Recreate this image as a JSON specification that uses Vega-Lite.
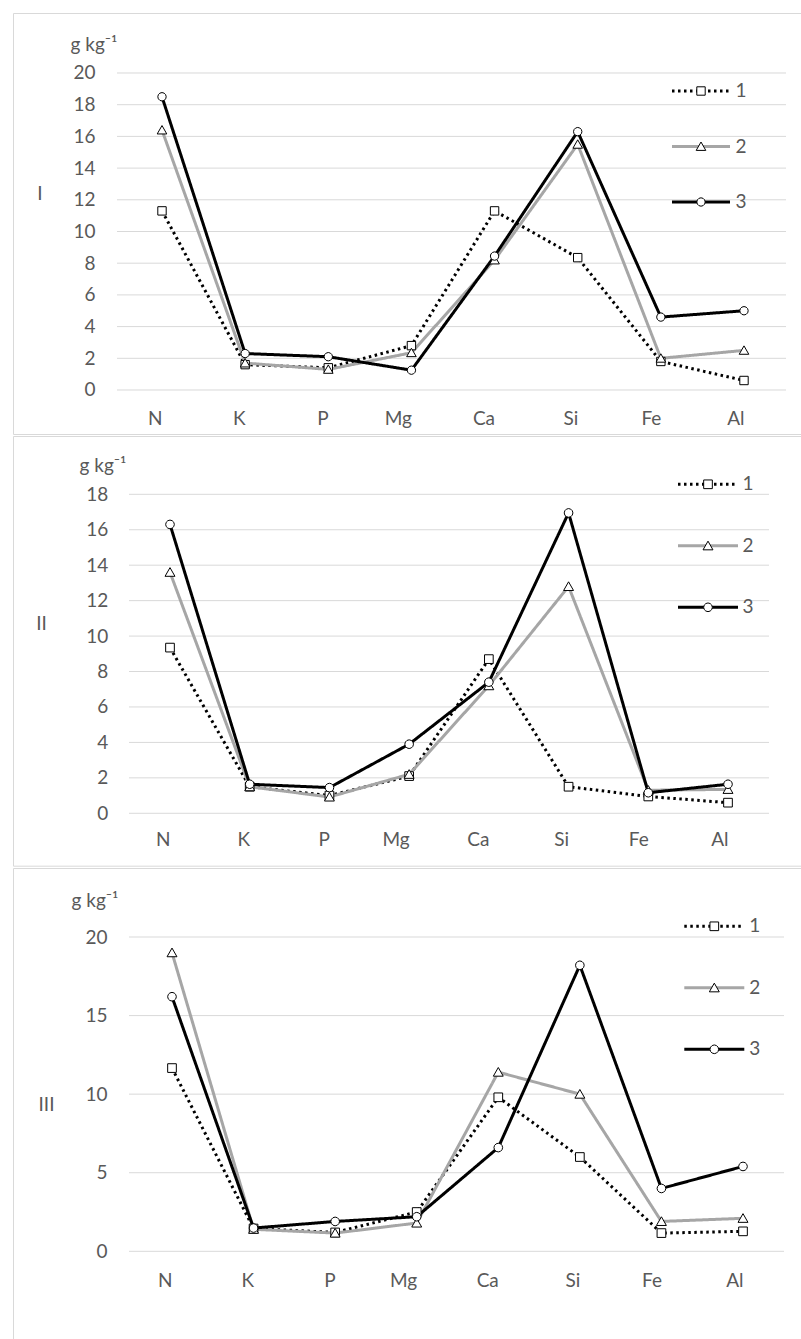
{
"$schema": "https://vega.github.io/schema/vega-lite/v6.json",
"padding": {"left": 12, "top": 12, "right": 0, "bottom": 0},
"spacing": 0,
"resolve": {
 "scale": {"x": "independent", "y": "independent", "color": "independent", "strokeDash": "independent", "shape": "independent"},
 "legend": {"color": "independent", "strokeDash": "independent", "shape": "independent"}
},
"datasets": {
"g1": [{"t":0},{"t":2},{"t":4},{"t":6},{"t":8},{"t":10},{"t":12},{"t":14},{"t":16},{"t":18},{"t":20}],
"g2": [{"t":0},{"t":2},{"t":4},{"t":6},{"t":8},{"t":10},{"t":12},{"t":14},{"t":16},{"t":18}],
"g3": [{"t":0},{"t":5},{"t":10},{"t":15},{"t":20}],
"d": [
{"p":"I","s":"1","e":"N","v":11.3},{"p":"I","s":"1","e":"K","v":1.6},{"p":"I","s":"1","e":"P","v":1.4},{"p":"I","s":"1","e":"Mg","v":2.8},{"p":"I","s":"1","e":"Ca","v":11.3},{"p":"I","s":"1","e":"Si","v":8.35},{"p":"I","s":"1","e":"Fe","v":1.8},{"p":"I","s":"1","e":"Al","v":0.6},
{"p":"I","s":"2","e":"N","v":16.4},{"p":"I","s":"2","e":"K","v":1.7},{"p":"I","s":"2","e":"P","v":1.3},{"p":"I","s":"2","e":"Mg","v":2.35},{"p":"I","s":"2","e":"Ca","v":8.2},{"p":"I","s":"2","e":"Si","v":15.5},{"p":"I","s":"2","e":"Fe","v":2.0},{"p":"I","s":"2","e":"Al","v":2.5},
{"p":"I","s":"3","e":"N","v":18.5},{"p":"I","s":"3","e":"K","v":2.3},{"p":"I","s":"3","e":"P","v":2.1},{"p":"I","s":"3","e":"Mg","v":1.25},{"p":"I","s":"3","e":"Ca","v":8.45},{"p":"I","s":"3","e":"Si","v":16.3},{"p":"I","s":"3","e":"Fe","v":4.6},{"p":"I","s":"3","e":"Al","v":5.0},
{"p":"II","s":"1","e":"N","v":9.35},{"p":"II","s":"1","e":"K","v":1.5},{"p":"II","s":"1","e":"P","v":1.0},{"p":"II","s":"1","e":"Mg","v":2.1},{"p":"II","s":"1","e":"Ca","v":8.7},{"p":"II","s":"1","e":"Si","v":1.5},{"p":"II","s":"1","e":"Fe","v":0.95},{"p":"II","s":"1","e":"Al","v":0.6},
{"p":"II","s":"2","e":"N","v":13.6},{"p":"II","s":"2","e":"K","v":1.5},{"p":"II","s":"2","e":"P","v":0.92},{"p":"II","s":"2","e":"Mg","v":2.2},{"p":"II","s":"2","e":"Ca","v":7.2},{"p":"II","s":"2","e":"Si","v":12.8},{"p":"II","s":"2","e":"Fe","v":1.3},{"p":"II","s":"2","e":"Al","v":1.35},
{"p":"II","s":"3","e":"N","v":16.3},{"p":"II","s":"3","e":"K","v":1.64},{"p":"II","s":"3","e":"P","v":1.45},{"p":"II","s":"3","e":"Mg","v":3.9},{"p":"II","s":"3","e":"Ca","v":7.4},{"p":"II","s":"3","e":"Si","v":16.95},{"p":"II","s":"3","e":"Fe","v":1.16},{"p":"II","s":"3","e":"Al","v":1.64},
{"p":"III","s":"1","e":"N","v":11.66},{"p":"III","s":"1","e":"K","v":1.45},{"p":"III","s":"1","e":"P","v":1.2},{"p":"III","s":"1","e":"Mg","v":2.5},{"p":"III","s":"1","e":"Ca","v":9.8},{"p":"III","s":"1","e":"Si","v":6.0},{"p":"III","s":"1","e":"Fe","v":1.16},{"p":"III","s":"1","e":"Al","v":1.27},
{"p":"III","s":"2","e":"N","v":19.0},{"p":"III","s":"2","e":"K","v":1.4},{"p":"III","s":"2","e":"P","v":1.16},{"p":"III","s":"2","e":"Mg","v":1.8},{"p":"III","s":"2","e":"Ca","v":11.4},{"p":"III","s":"2","e":"Si","v":10.0},{"p":"III","s":"2","e":"Fe","v":1.9},{"p":"III","s":"2","e":"Al","v":2.1},
{"p":"III","s":"3","e":"N","v":16.2},{"p":"III","s":"3","e":"K","v":1.48},{"p":"III","s":"3","e":"P","v":1.9},{"p":"III","s":"3","e":"Mg","v":2.2},{"p":"III","s":"3","e":"Ca","v":6.6},{"p":"III","s":"3","e":"Si","v":18.2},{"p":"III","s":"3","e":"Fe","v":4.0},{"p":"III","s":"3","e":"Al","v":5.4}
]
},
"vconcat": [
{
"width": 792, "height": 421,
"resolve": {"axis": {"y": "independent"}},
"layer": [
{"data": {"name": "g1"}, "mark": {"type": "rule", "color": "#d9d9d9", "strokeWidth": 1, "xOffset": -45, "x2Offset": 42},
 "encoding": {"y": {"field": "t", "type": "quantitative", "axis": null}, "x": {"datum": "N"}, "x2": {"datum": "Al"}}},
{"data": {"name": "d"}, "transform": [{"filter": "datum.p == 'I'"}],
 "mark": {"type": "line", "strokeWidth": 3, "strokeJoin": "round", "strokeCap": "butt"},
 "encoding": {
  "x": {"field": "e", "type": "nominal", "scale": {"type": "point", "domain": ["N","K","P","Mg","Ca","Si","Fe","Al"], "range": [149, 731], "padding": 0}, "axis": {"title": null, "labelAngle": 0, "labelPadding": -16, "grid": false}},
  "y": {"field": "v", "type": "quantitative", "scale": {"domain": [-2.776, 23.785], "nice": false, "zero": false}, "axis": {"values": [0,2,4,6,8,10,12,14,16,18,20], "title": "I", "titleAngle": 0, "titleX": 26.3, "titleY": 180, "titleAlign": "center", "titleBaseline": "middle", "labelPadding": -82, "grid": false}},
  "color": {"field": "s", "type": "nominal", "scale": {"domain": ["1","2","3"], "range": ["#000000","#a6a6a6","#000000"]}, "legend": {"orient": "none", "legendX": 657.5, "legendY": 47.5, "title": null, "symbolType": "stroke", "symbolSize": 3364, "symbolStrokeWidth": 3, "rowPadding": 14.5, "labelOffset": 4, "padding": 0}},
  "strokeDash": {"field": "s", "type": "nominal", "scale": {"domain": ["1","2","3"], "range": [[2.5,3.5],[1,0],[1,0]]}, "legend": {"orient": "none", "legendX": 657.5, "legendY": 47.5, "title": null, "symbolType": "stroke", "symbolSize": 3364, "symbolStrokeWidth": 3, "rowPadding": 14.5, "labelOffset": 4, "padding": 0}}
 }},
{"data": {"name": "d"}, "transform": [{"filter": "datum.p == 'I'"}],
 "mark": {"type": "point", "filled": false, "fill": "white", "stroke": "black", "strokeWidth": 1, "size": 3600, "opacity": 1},
 "encoding": {
  "x": {"field": "e", "type": "nominal"},
  "y": {"field": "v", "type": "quantitative", "axis": {"orient": "left", "labels": false, "ticks": false, "domain": false, "grid": false, "title": "g kg⁻¹", "titleAngle": 0, "titleX": 57, "titleY": 37.5, "titleAlign": "left", "titleBaseline": "alphabetic"}},
  "shape": {"field": "s", "type": "nominal", "scale": {"range": ["M-0.14,-0.14L0.14,-0.14L0.14,0.14L-0.14,0.14Z","M0,-0.15L0.16,0.13L-0.16,0.13Z","M0.14,0L0.121,0.07L0.07,0.121L0,0.14L-0.07,0.121L-0.121,0.07L-0.14,0L-0.121,-0.07L-0.07,-0.121L0,-0.14L0.07,-0.121L0.121,-0.07Z"]}, "legend": {"orient": "none", "legendX": 657.5, "legendY": 47.5, "title": null, "symbolSize": 3600, "symbolStrokeWidth": 1, "rowPadding": 14.5, "padding": 0, "labelOpacity": 0}}
 }}
]
},
{
"width": 792, "height": 429.7,
"resolve": {"axis": {"y": "independent"}},
"layer": [
{"data": {"name": "g2"}, "mark": {"type": "rule", "color": "#d9d9d9", "strokeWidth": 1, "xOffset": -41, "x2Offset": 41},
 "encoding": {"y": {"field": "t", "type": "quantitative", "axis": null}, "x": {"datum": "N"}, "x2": {"datum": "Al"}}},
{"data": {"name": "d"}, "transform": [{"filter": "datum.p == 'II'"}],
 "mark": {"type": "line", "strokeWidth": 3, "strokeJoin": "round", "strokeCap": "butt"},
 "encoding": {
  "x": {"field": "e", "type": "nominal", "scale": {"type": "point", "domain": ["N","K","P","Mg","Ca","Si","Fe","Al"], "range": [157, 715], "padding": 0}, "axis": {"title": null, "labelAngle": 0, "labelPadding": -26.4, "grid": false}},
  "y": {"field": "v", "type": "quantitative", "scale": {"domain": [-2.957, 21.290], "nice": false, "zero": false}, "axis": {"values": [0,2,4,6,8,10,12,14,16,18], "title": "II", "titleAngle": 0, "titleX": 28, "titleY": 187.5, "titleAlign": "center", "titleBaseline": "middle", "labelPadding": -94.7, "grid": false}},
  "color": {"field": "s", "type": "nominal", "scale": {"domain": ["1","2","3"], "range": ["#000000","#a6a6a6","#000000"]}, "legend": {"orient": "none", "legendX": 663.5, "legendY": 16.8, "title": null, "symbolType": "stroke", "symbolSize": 3600, "symbolStrokeWidth": 3, "rowPadding": 19.5, "labelOffset": 3, "padding": 0}},
  "strokeDash": {"field": "s", "type": "nominal", "scale": {"domain": ["1","2","3"], "range": [[2.5,3.5],[1,0],[1,0]]}, "legend": {"orient": "none", "legendX": 663.5, "legendY": 16.8, "title": null, "symbolType": "stroke", "symbolSize": 3600, "symbolStrokeWidth": 3, "rowPadding": 19.5, "labelOffset": 3, "padding": 0}}
 }},
{"data": {"name": "d"}, "transform": [{"filter": "datum.p == 'II'"}],
 "mark": {"type": "point", "filled": false, "fill": "white", "stroke": "black", "strokeWidth": 1, "size": 3844, "opacity": 1},
 "encoding": {
  "x": {"field": "e", "type": "nominal"},
  "y": {"field": "v", "type": "quantitative", "axis": {"orient": "left", "labels": false, "ticks": false, "domain": false, "grid": false, "title": "g kg⁻¹", "titleAngle": 0, "titleX": 66, "titleY": 35, "titleAlign": "left", "titleBaseline": "alphabetic"}},
  "shape": {"field": "s", "type": "nominal", "scale": {"range": ["M-0.14,-0.14L0.14,-0.14L0.14,0.14L-0.14,0.14Z","M0,-0.15L0.16,0.13L-0.16,0.13Z","M0.14,0L0.121,0.07L0.07,0.121L0,0.14L-0.07,0.121L-0.121,0.07L-0.14,0L-0.121,-0.07L-0.07,-0.121L0,-0.14L0.07,-0.121L0.121,-0.07Z"]}, "legend": {"orient": "none", "legendX": 663.5, "legendY": 16.8, "title": null, "symbolSize": 3844, "symbolStrokeWidth": 1, "rowPadding": 19.5, "padding": 0, "labelOpacity": 0}}
 }}
]
},
{
"width": 792, "height": 480,
"resolve": {"axis": {"y": "independent"}},
"layer": [
{"data": {"name": "g3"}, "mark": {"type": "rule", "color": "#d9d9d9", "strokeWidth": 1, "xOffset": -43, "x2Offset": 41},
 "encoding": {"y": {"field": "t", "type": "quantitative", "axis": null}, "x": {"datum": "N"}, "x2": {"datum": "Al"}}},
{"data": {"name": "d"}, "transform": [{"filter": "datum.p == 'III'"}],
 "mark": {"type": "line", "strokeWidth": 3, "strokeJoin": "round", "strokeCap": "butt"},
 "encoding": {
  "x": {"field": "e", "type": "nominal", "scale": {"type": "point", "domain": ["N","K","P","Mg","Ca","Si","Fe","Al"], "range": [159, 730], "padding": 0}, "axis": {"title": null, "labelAngle": 0, "labelPadding": -67.7, "grid": false}},
  "y": {"field": "v", "type": "quantitative", "scale": {"domain": [-6.153, 24.391], "nice": false, "zero": false}, "axis": {"values": [0,5,10,15,20], "title": "III", "titleAngle": 0, "titleX": 33, "titleY": 236.3, "titleAlign": "center", "titleBaseline": "middle", "labelPadding": -94, "grid": false}},
  "color": {"field": "s", "type": "nominal", "scale": {"domain": ["1","2","3"], "range": ["#000000","#a6a6a6","#000000"]}, "legend": {"orient": "none", "legendX": 669.8, "legendY": 26.8, "title": null, "symbolType": "stroke", "symbolSize": 3600, "symbolStrokeWidth": 3, "rowPadding": 19.5, "labelOffset": 3.5, "padding": 0}},
  "strokeDash": {"field": "s", "type": "nominal", "scale": {"domain": ["1","2","3"], "range": [[2.5,3.5],[1,0],[1,0]]}, "legend": {"orient": "none", "legendX": 669.8, "legendY": 26.8, "title": null, "symbolType": "stroke", "symbolSize": 3600, "symbolStrokeWidth": 3, "rowPadding": 19.5, "labelOffset": 3.5, "padding": 0}}
 }},
{"data": {"name": "d"}, "transform": [{"filter": "datum.p == 'III'"}],
 "mark": {"type": "point", "filled": false, "fill": "white", "stroke": "black", "strokeWidth": 1, "size": 3844, "opacity": 1},
 "encoding": {
  "x": {"field": "e", "type": "nominal"},
  "y": {"field": "v", "type": "quantitative", "axis": {"orient": "left", "labels": false, "ticks": false, "domain": false, "grid": false, "title": "g kg⁻¹", "titleAngle": 0, "titleX": 58, "titleY": 38.3, "titleAlign": "left", "titleBaseline": "alphabetic"}},
  "shape": {"field": "s", "type": "nominal", "scale": {"range": ["M-0.14,-0.14L0.14,-0.14L0.14,0.14L-0.14,0.14Z","M0,-0.15L0.16,0.13L-0.16,0.13Z","M0.14,0L0.121,0.07L0.07,0.121L0,0.14L-0.07,0.121L-0.121,0.07L-0.14,0L-0.121,-0.07L-0.07,-0.121L0,-0.14L0.07,-0.121L0.121,-0.07Z"]}, "legend": {"orient": "none", "legendX": 669.8, "legendY": 26.8, "title": null, "symbolSize": 3844, "symbolStrokeWidth": 1, "rowPadding": 19.5, "padding": 0, "labelOpacity": 0}}
 }}
]
}
],
"config": {
"view": {"stroke": "#d9d9d9", "strokeWidth": 1},
"font": "Lato",
"axis": {"labelFont": "Lato", "labelFontSize": 19, "labelColor": "#595959", "titleFont": "Lato", "titleFontSize": 19, "titleFontWeight": "normal", "titleColor": "#595959", "domain": false, "ticks": false},
"legend": {"labelFont": "Lato", "labelFontSize": 19, "labelColor": "#595959"}
}
}
